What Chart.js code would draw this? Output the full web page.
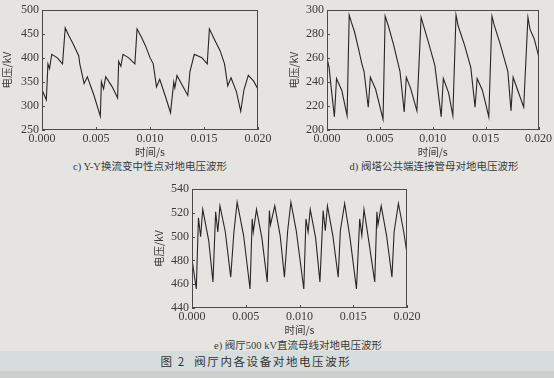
<!DOCTYPE html>
<html>
<head>
<meta charset="utf-8">
<script src="https://cdn.jsdelivr.net/npm/chart.js@4"></script>
<style>
  body { margin: 0; background: #e5e4e1; }
  #page { position: relative; width: 554px; height: 378px; overflow: hidden; }
  canvas { position: absolute; }
  .cap {
    position: absolute; text-align: center; white-space: nowrap;
    font: 10.5px "Liberation Serif", "Noto Sans CJK SC", serif; color: #3a3a3a;
  }
  #band { position: absolute; left: 0; top: 351px; width: 554px; height: 20px; background: #d6dddc; }
  #low { position: absolute; left: 0; top: 371px; width: 554px; height: 7px; background: #cdd1cd; }
  #fig {
    position: absolute; left: 0; width: 512px; top: 353px; text-align: center;
    font: 11.5px "Noto Sans CJK SC", sans-serif; letter-spacing: 1.6px; color: #333;
  }
</style>
</head>
<body>
<div id="page">
  <canvas id="chart-c" width="275" height="158" style="left:0;top:0"></canvas>
  <canvas id="chart-d" width="267" height="158" style="left:287px;top:0"></canvas>
  <canvas id="chart-e" width="272" height="157" style="left:152px;top:179px"></canvas>
  <div class="cap" style="left:50px;width:200px;top:158px">c) Y-Y换流变中性点对地电压波形</div>
  <div class="cap" style="left:334px;width:200px;top:158px">d) 阀塔公共端连接管母对地电压波形</div>
  <div class="cap" style="left:198px;width:200px;top:337px">e) 阀厅500 kV直流母线对地电压波形</div>
  <div id="band"></div>
  <div id="low"></div>
  <div id="fig">图 2 &nbsp;阀厅内各设备对地电压波形</div>
</div>
<script>
(function () {
    "use strict";

    // x axis, shared by all three plots
    const xTicks = [0, 0.005, 0.01, 0.015, 0.02];
    const xTickLabels = ["0.000", "0.005", "0.010", "0.015", "0.020"];

    // c) Y-Y converter transformer neutral point
    const timeC = [0, 0.0004, 0.00055, 0.0007, 0.0009, 0.0014, 0.0019, 0.00215, 0.0025, 0.0029,
        0.0034, 0.0035, 0.0039, 0.0042, 0.0048, 0.0054, 0.0055, 0.0057, 0.0059, 0.0065,
        0.007, 0.0071, 0.0073, 0.0075, 0.008, 0.0086, 0.0088, 0.0092, 0.0096, 0.01,
        0.0103, 0.0106, 0.0109, 0.0114, 0.0119, 0.0122, 0.0123, 0.0125, 0.013, 0.0135,
        0.0137, 0.0141, 0.0148, 0.0153, 0.0155, 0.0159, 0.0165, 0.0169, 0.0172, 0.0175,
        0.018, 0.0184, 0.0187, 0.0191, 0.0196, 0.02];
    const voltC = [334, 313, 388, 378, 408, 401, 388, 463, 446, 429,
        405, 388, 347, 361, 323, 279, 351, 336, 361, 340,
        317, 393, 383, 408, 401, 388, 461, 444, 425, 401,
        388, 340, 356, 322, 286, 350, 338, 364, 343, 322,
        372, 408, 401, 388, 461, 442, 415, 388, 342, 359,
        330, 289, 334, 364, 352, 335];
    const yTicksC = [250, 300, 350, 400, 450, 500];

    // d) valve tower common terminal bus
    const timeD = [0, 0.0002, 0.0004, 0.0007, 0.0009, 0.0014, 0.0019, 0.0021, 0.0023, 0.0026,
        0.003, 0.0033, 0.0035, 0.0039, 0.0041, 0.0046, 0.0053, 0.0055, 0.0058, 0.0063,
        0.0069, 0.0073, 0.0075, 0.0079, 0.0085, 0.0089, 0.0091, 0.0096, 0.0102, 0.0108,
        0.011, 0.0115, 0.0119, 0.0122, 0.0124, 0.013, 0.0136, 0.014, 0.0142, 0.0147,
        0.0153, 0.0156, 0.0158, 0.0164, 0.0171, 0.0174, 0.0176, 0.018, 0.0186, 0.019,
        0.0192, 0.0196, 0.02];
    const voltD = [260, 252, 235, 211, 243, 233, 212, 296, 290, 282,
        267, 255, 249, 219, 244, 234, 209, 295, 287, 271,
        249, 215, 244, 235, 216, 294, 288, 273, 254, 211,
        243, 231, 212, 296, 287, 271, 252, 219, 243, 233,
        211, 295, 288, 271, 249, 216, 244, 234, 219, 294,
        284, 276, 262];
    const yTicksD = [200, 220, 240, 260, 280, 300];

    // e) valve hall 500 kV DC bus
    const timeE = [0, 0.0004, 0.0006, 0.0008, 0.001, 0.00155, 0.00195, 0.0022, 0.0024, 0.0026,
        0.0031, 0.0036, 0.0039, 0.0042, 0.0048, 0.0054, 0.0056, 0.0057, 0.006, 0.0065,
        0.007, 0.0072, 0.0073, 0.0077, 0.0082, 0.0086, 0.0089, 0.0092, 0.0097, 0.0104,
        0.0106, 0.0108, 0.011, 0.0115, 0.0119, 0.0122, 0.0124, 0.0126, 0.0131, 0.0136,
        0.0138, 0.0142, 0.0147, 0.0153, 0.0156, 0.0158, 0.016, 0.0164, 0.017, 0.0172,
        0.0173, 0.0176, 0.0181, 0.0186, 0.0188, 0.0192, 0.0197, 0.02];
    const voltE = [481, 456, 516, 500, 523, 497, 462, 521, 504, 526,
        504, 466, 504, 529, 501, 456, 515, 504, 523, 499,
        462, 522, 510, 526, 501, 466, 505, 529, 505, 456,
        515, 504, 523, 499, 462, 522, 505, 526, 501, 466,
        505, 528, 499, 456, 515, 501, 523, 499, 462, 521,
        510, 526, 501, 466, 504, 528, 504, 486];
    const yTicksE = [440, 460, 480, 500, 520, 540];

    const textColor = "#3a3a3a";
    const tickFont = { family: "'Liberation Serif', serif", size: 12 };
    const titleFont = { family: "'Noto Sans CJK SC', sans-serif", size: 10.5 };

    // box round the plot and short inward ticks
    const frameTicks = {
        id: "frameTicks",
        afterDraw(chart) {
            const { ctx, chartArea: a, scales } = chart;
            ctx.save();
            ctx.strokeStyle = "#4a4a4a";
            ctx.lineWidth = 1;
            ctx.strokeRect(Math.round(a.left) + 0.5, Math.round(a.top) + 0.5,
                Math.round(a.width) - 1, Math.round(a.height) - 1);
            ctx.beginPath();
            scales.x.ticks.forEach((tk) => {
                const px = Math.round(scales.x.getPixelForValue(tk.value)) + 0.5;
                ctx.moveTo(px, a.bottom);
                ctx.lineTo(px, a.bottom - 3);
            });
            scales.y.ticks.forEach((tk) => {
                const py = Math.round(scales.y.getPixelForValue(tk.value)) + 0.5;
                ctx.moveTo(a.left, py);
                ctx.lineTo(a.left + 3, py);
            });
            ctx.stroke();
            ctx.restore();
        },
    };

    function makeChart(id, times, volts, yTicks, yWidth, padRight) {
        const ctx = document.getElementById(id).getContext("2d");
        return new Chart(ctx, {
            type: "scatter",
            data: {
                datasets: [
                    {
                        data: times.map((t, i) => ({ x: t, y: volts[i] })),
                        showLine: true,
                        borderColor: "#262626",
                        borderWidth: 1.1,
                        pointRadius: 0,
                        tension: 0,
                    },
                ],
            },
            options: {
                responsive: false,
                animation: false,
                layout: { padding: { top: 7, right: padRight, bottom: 0, left: 0 } },
                plugins: {
                    legend: { display: false },
                    tooltip: { enabled: false },
                },
                scales: {
                    x: {
                        type: "linear",
                        min: xTicks[0],
                        max: xTicks[xTicks.length - 1],
                        afterBuildTicks: (s) => {
                            s.ticks = xTicks.map((v) => ({ value: v }));
                        },
                        afterFit: (s) => {
                            s.height = 28;
                        },
                        grid: { display: false, drawTicks: false },
                        border: { display: false },
                        ticks: {
                            font: tickFont,
                            color: textColor,
                            padding: 2,
                            maxRotation: 0,
                            autoSkip: false,
                            callback: (v, i) => xTickLabels[i],
                        },
                        title: {
                            display: true,
                            text: "时间/s",
                            font: titleFont,
                            color: textColor,
                            padding: 0,
                        },
                    },
                    y: {
                        min: yTicks[0],
                        max: yTicks[yTicks.length - 1],
                        afterBuildTicks: (s) => {
                            s.ticks = yTicks.map((v) => ({ value: v }));
                        },
                        afterFit: (s) => {
                            s.width = yWidth;
                        },
                        grid: { display: false, drawTicks: false },
                        border: { display: false },
                        ticks: {
                            font: tickFont,
                            color: textColor,
                            padding: 3,
                            autoSkip: false,
                        },
                        title: {
                            display: true,
                            text: "电压/kV",
                            font: titleFont,
                            color: textColor,
                            padding: 1,
                        },
                    },
                },
            },
            plugins: [frameTicks],
        });
    }

    makeChart("chart-c", timeC, voltC, yTicksC, 42, 17);
    makeChart("chart-d", timeD, voltD, yTicksD, 40, 12);
    makeChart("chart-e", timeE, voltE, yTicksE, 40, 17);
})();
</script>
</body>
</html>
